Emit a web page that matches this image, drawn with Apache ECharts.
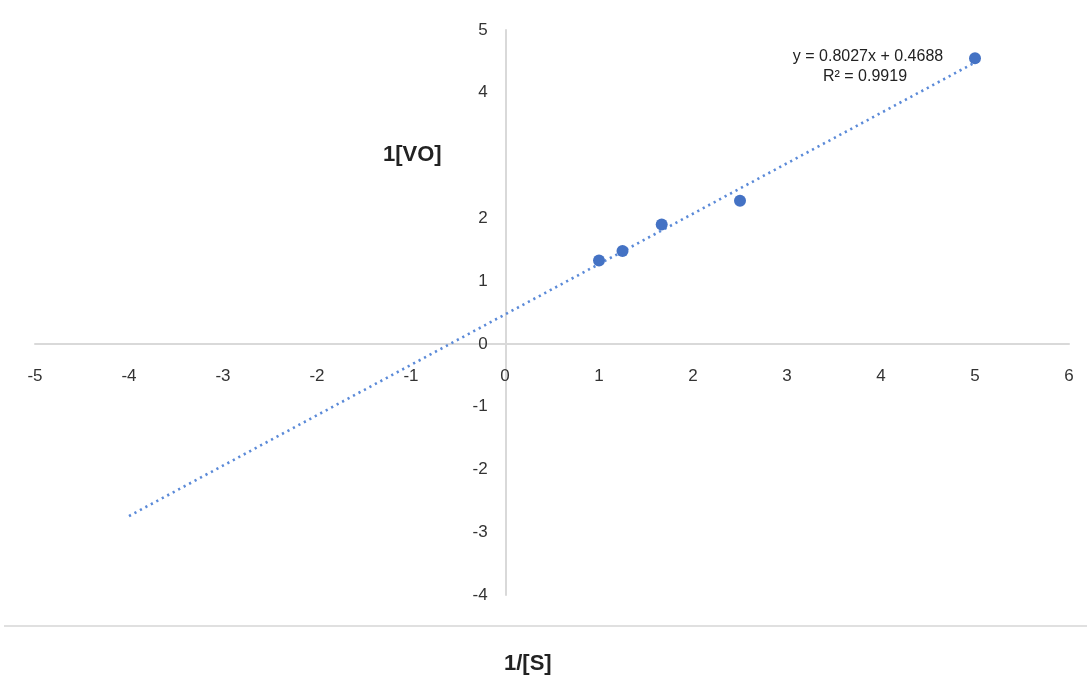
<!DOCTYPE html>
<html>
<head>
<meta charset="utf-8">
<script src="https://cdn.jsdelivr.net/npm/echarts@6/dist/echarts.min.js"></script>
<style>html,body{margin:0;padding:0;background:#fff}#c{width:1087px;height:684px}</style>
</head>
<body>
<div id="c"></div>
<script>
// Data
const invS = [1, 1.25, 1.667, 2.5, 5];
const invV = [1.33, 1.48, 1.9, 2.28, 4.55];
const slope = 0.8027;
const intercept = 0.4688;
const trendX = [-4, 5];
const xTicks = [-5, -4, -3, -2, -1, 0, 1, 2, 3, 4, 5, 6];
const yTicks = [-4, -3, -2, -1, 0, 1, 2, 4, 5]; // "3" is hidden under the axis title in the reference
const eqText = 'y = 0.8027x + 0.4688';
const r2Text = 'R² = 0.9919';

const chart = echarts.init(document.getElementById('c'));
const font = 'Liberation Sans, Arial, sans-serif';
const grid = { left: 35, right: 18, top: 30, bottom: 89 };
const option = {
  animation: false,
  grid: Object.assign({ containLabel: false }, grid),
  xAxis: {
    type: 'value', min: -5, max: 6, interval: 1, position: 'bottom', offset: 0,
    axisLine: { onZero: false, lineStyle: { color: '#d9d9d9', width: 2 } },
    axisTick: { show: false },
    splitLine: { show: false },
    axisLabel: { margin: 24, fontSize: 17, color: '#333', fontFamily: font,
      formatter: v => xTicks.includes(v) ? String(v) : '' }
  },
  yAxis: {
    type: 'value', min: -4, max: 5, interval: 1, position: 'left', offset: 0,
    axisLine: { onZero: false, lineStyle: { color: '#d9d9d9', width: 2 } },
    axisTick: { show: false },
    splitLine: { show: false },
    axisLabel: { margin: 18, fontSize: 17, color: '#333', fontFamily: font,
      formatter: v => yTicks.includes(v) ? String(v) : '' }
  },
  series: [
    {
      type: 'line',
      data: trendX.map(x => [x, slope * x + intercept]),
      symbol: 'none',
      lineStyle: { color: '#5b8ad8', width: 2.6, type: [2.2, 4], cap: 'butt' },
      z: 2
    },
    {
      type: 'scatter',
      data: invS.map((x, i) => [x, invV[i]]),
      symbolSize: 12,
      itemStyle: { color: '#4472c4', opacity: 1 },
      z: 3
    }
  ],
  graphic: [
    { type: 'text', left: 383, top: 144, style: { text: '1[VO]', font: 'bold 22px ' + font, fill: '#222' } },
    { type: 'text', left: 504, top: 653, style: { text: '1/[S]', font: 'bold 22px ' + font, fill: '#222' } },
    { type: 'line', shape: { x1: 4, y1: 626, x2: 1087, y2: 626 }, style: { stroke: '#e0e0e0', lineWidth: 2 } },
    { type: 'text', x: 868, y: 57, style: { text: eqText, font: '16px ' + font, fill: '#222', align: 'center', verticalAlign: 'middle' } },
    { type: 'text', x: 865, y: 77, style: { text: r2Text, font: '16px ' + font, fill: '#222', align: 'center', verticalAlign: 'middle' } }
  ]
};
chart.setOption(option);
// Move both axes (with their labels) onto the zero lines, using the library's own scales
const origin = chart.convertToPixel({ gridIndex: 0 }, [0, 0]);
const W = 1087, H = 684;
chart.setOption({
  xAxis: { offset: -((H - grid.bottom) - origin[1]) },
  yAxis: { offset: -(origin[0] - grid.left) }
});
</script>
</body>
</html>
